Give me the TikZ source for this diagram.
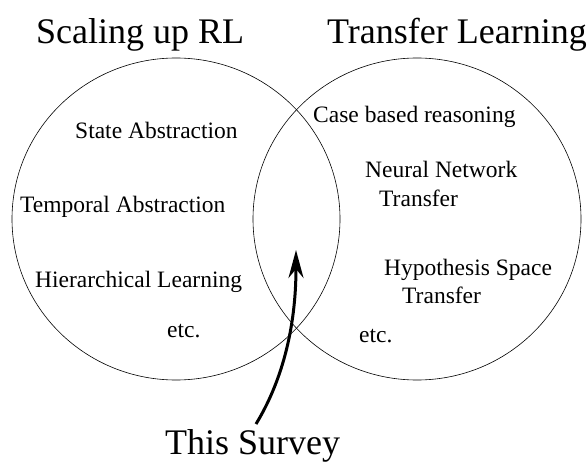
\documentclass[tikz,border=0pt]{standalone}
\usepackage{fontspec}
\setmainfont{Liberation Serif}
\usetikzlibrary{arrows.meta}
\begin{document}
\begin{tikzpicture}[x=1pt,y=-1pt,
  big/.style={inner sep=0pt,anchor=base west,font=\fontsize{36}{40}\selectfont},
  item/.style={inner sep=0pt,anchor=base west,font=\fontsize{23.5}{28}\selectfont},
  ring/.style={draw,line width=0.6pt},
  survey/.style={line width=3pt,-{Stealth[length=28pt,width=15pt,inset=9pt]}}]
\useasboundingbox (0,0) rectangle (588,462);
\draw[ring] (176,219) ellipse [x radius=164pt, y radius=161pt];
\draw[ring] (417,219) ellipse [x radius=164pt, y radius=161pt];
\node[big] (t1) at (36,44) {Scaling up RL};
\node[big] (t2) at (327,44) {Transfer Learning};
\node[big] (t3) at (165,454) {This Survey};
\node[item] (a1) at (75,139) {State Abstraction};
\node[item] (a2) at (20,212) {Temporal Abstraction};
\node[item] (a3) at (35,287) {Hierarchical Learning};
\node[item] (a4) at (167,337) {etc.};
\node[item] (b1) at (313,123) {Case based reasoning};
\node[item] (b2) at (365,178) {Neural Network};
\node[item] (b3) at (379,207) {Transfer};
\node[item] (b4) at (384,275) {Hypothesis Space};
\node[item] (b5) at (402,303) {Transfer};
\node[item] (b6) at (359,342) {etc.};
\coordinate (tail) at (256,424);
\coordinate (head) at (296,250);
\draw[survey] (tail) .. controls (281,383) and (296,330) .. (head);
\end{tikzpicture}
\end{document}
